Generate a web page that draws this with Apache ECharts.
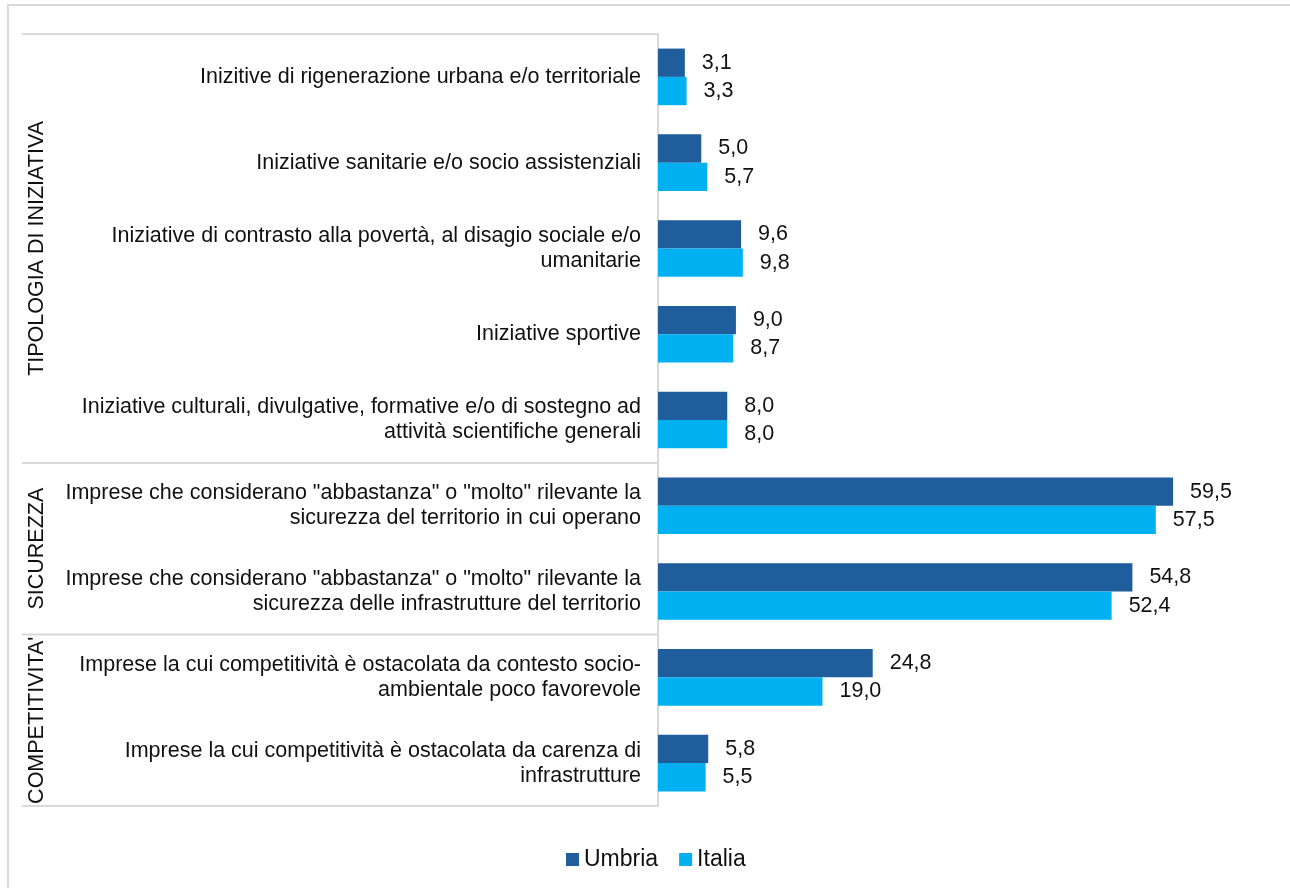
<!DOCTYPE html>
<html>
<head>
<meta charset="utf-8">
<style>
  html, body { margin: 0; padding: 0; background: #fff; }
  #chart { width: 1290px; height: 888px; }
</style>
<script src="https://cdn.jsdelivr.net/npm/echarts@6/dist/echarts.min.js"></script>
</head>
<body>
<div id="chart"></div>
<script>
// Category labels, top to bottom
const categories = [
  'Inizitive di rigenerazione urbana e/o territoriale',
  'Iniziative sanitarie e/o socio assistenziali',
  'Iniziative di contrasto alla povertà, al disagio sociale e/o\numanitarie',
  'Iniziative sportive',
  'Iniziative culturali, divulgative, formative e/o di sostegno ad\nattività scientifiche generali',
  'Imprese che considerano "abbastanza" o "molto" rilevante la\nsicurezza del territorio in cui operano',
  'Imprese che considerano "abbastanza" o "molto" rilevante la\nsicurezza delle infrastrutture del territorio',
  'Imprese la cui competitività è ostacolata da contesto socio-\nambientale poco favorevole',
  'Imprese la cui competitività è ostacolata da carenza di\ninfrastrutture'
];

// Values (%)
const umbria = [3.1, 5.0, 9.6, 9.0, 8.0, 59.5, 54.8, 24.8, 5.8];
const italia = [3.3, 5.7, 9.8, 8.7, 8.0, 57.5, 52.4, 19.0, 5.5];

// Category groups shown on the far left
const groupNames = ['TIPOLOGIA DI INIZIATIVA', 'SICUREZZA', "COMPETITIVITA'"];
const groupSizes = [5, 2, 2];

const FONT = '"Liberation Sans", Arial, sans-serif';
const TEXT = '#111';
const LINE = '#d9d9d9';
const FS = 21.5;

const gridTop = 34, gridBottom = 82, gridLeft = 658, gridRight = 26;
const chartH = 888;

const chart = echarts.init(document.getElementById('chart'), null, { renderer: 'canvas' });

const fmt = p => p.value.toFixed(1).replace('.', ',');

// Group separators and rotated group titles in the label area
function groupGraphics() {
  const els = [];
  const plotH = chartH - gridTop - gridBottom;
  const band = plotH / categories.length;
  // outer frame
  els.push({ type: 'rect', shape: { x: 8, y: 5, width: 1400, height: 1000 },
    style: { fill: 'none', stroke: LINE, lineWidth: 2 }, silent: true, z: -1 });
  let idx = 0;
  const ys = [gridTop];
  groupSizes.forEach((n, g) => {
    const y0 = gridTop + idx * band;
    idx += n;
    const y1 = gridTop + idx * band;
    ys.push(y1);
    els.push({
      type: 'text', x: 37, y: (y0 + y1) / 2, rotation: Math.PI / 2,
      style: { text: groupNames[g], fill: TEXT, font: FS + 'px ' + FONT,
        align: 'center', verticalAlign: 'middle' }, silent: true
    });
  });
  ys.forEach(y => {
    els.push({ type: 'line', shape: { x1: 22, y1: y, x2: gridLeft, y2: y },
      style: { stroke: LINE, lineWidth: 2 }, silent: true });
  });
  return els;
}

chart.setOption({
  animation: false,
  backgroundColor: '#fff',
  textStyle: { fontFamily: FONT },
  grid: { top: gridTop, bottom: gridBottom, left: gridLeft, right: gridRight, containLabel: false },
  legend: {
    data: ['Umbria', 'Italia'],
    bottom: 12,
    left: 561,
    icon: 'rect',
    itemWidth: 13,
    itemHeight: 13,
    itemGap: 21,
    textStyle: { fontSize: 23, color: TEXT, fontFamily: FONT }
  },
  xAxis: {
    type: 'value', min: 0, max: 70,
    show: false,
    splitLine: { show: false }
  },
  yAxis: {
    type: 'category',
    inverse: true,
    data: categories,
    axisLine: { show: true, lineStyle: { color: LINE, width: 2 } },
    axisTick: { show: false },
    axisLabel: {
      margin: 17, fontSize: FS, lineHeight: 25, color: TEXT, fontFamily: FONT, align: 'right'
    }
  },
  series: [
    {
      name: 'Umbria', type: 'bar', data: umbria,
      barGap: '0%', barCategoryGap: '34%',
      itemStyle: { color: '#1F5D9C' },
      label: { show: true, position: 'right', distance: 17, formatter: fmt,
        fontSize: FS, color: TEXT, fontFamily: FONT }
    },
    {
      name: 'Italia', type: 'bar', data: italia,
      barGap: '0%', barCategoryGap: '34%',
      itemStyle: { color: '#00B0F0' },
      label: { show: true, position: 'right', distance: 17, formatter: fmt,
        fontSize: FS, color: TEXT, fontFamily: FONT }
    }
  ],
  graphic: groupGraphics()
});
</script>
</body>
</html>
